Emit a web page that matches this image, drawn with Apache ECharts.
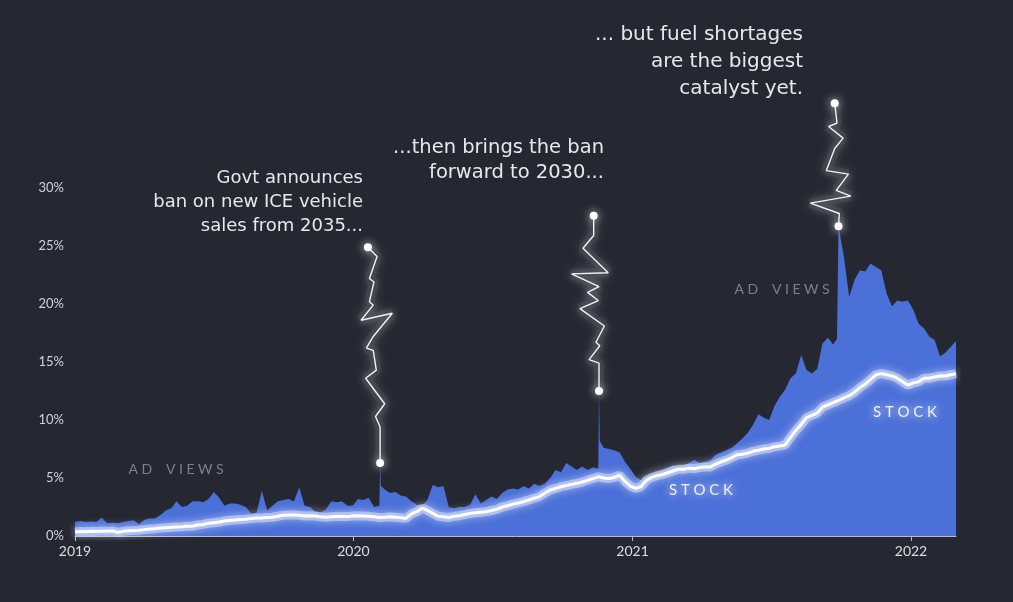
<!DOCTYPE html>
<html>
<head>
<meta charset="utf-8">
<script src="https://cdn.jsdelivr.net/npm/echarts@6.0.0/dist/echarts.min.js"></script>
<style>
html, body { margin: 0; padding: 0; background: #252831; }
#chart { width: 1013px; height: 602px; }
</style>
</head>
<body>
<div id="chart"></div>
<script>
// weekly samples from 2019-01-01, values in %
var START = new Date(2019, 0, 1).getTime();
var DAY = 864e5;

var adViews = [
    1.2, 1.3, 1.2, 1.25, 1.2, 1.6, 1.1, 1.15, 1.1, 1.2,
    1.3, 1.35, 1.0, 1.4, 1.5, 1.5, 1.8, 2.2, 2.4, 3.0,
    2.5, 2.6, 3.0, 3.0, 2.9, 3.2, 3.8, 3.3, 2.6, 2.8,
    2.8, 2.7, 2.5, 1.95, 2.0, 3.9, 2.2, 2.6, 3.0, 3.1,
    3.2, 3.0, 4.2, 2.6, 2.5, 2.1, 2.0, 2.3, 3.0, 2.9,
    3.0, 2.6, 2.6, 3.2, 3.1, 3.3, 2.5, 2.6, 4.0, 3.7,
    3.8, 3.5, 3.4, 3.0, 2.7, 2.6, 3.1, 4.4, 4.2, 4.3,
    2.5, 2.4, 2.5, 2.5, 2.7, 3.6, 2.8, 3.1, 3.4, 3.2,
    3.7, 4.0, 4.1, 4.0, 4.3, 4.1, 4.5, 4.3, 4.5, 5.0,
    5.7, 5.5, 6.3, 6.0, 5.7, 6.0, 5.7, 5.9, 5.8, 7.6,
    7.5, 7.4, 7.2, 6.4, 5.8, 5.1, 4.8, 5.1, 5.4, 5.5,
    5.7, 5.9, 6.1, 6.0, 6.1, 6.3, 6.55, 6.3, 6.4, 6.55,
    7.0, 7.2, 7.4, 7.6, 8.0, 8.4, 8.9, 9.6, 10.5, 10.2,
    10.0, 11.2, 12.0, 12.6, 13.6, 14.0, 15.6, 14.3, 14.0, 14.4,
    16.6, 17.1, 16.5, 26.7, 24.1, 20.6, 22.1, 22.9, 22.8, 23.5,
    23.2, 22.9, 20.9, 19.8, 20.3, 20.2, 20.3, 19.5, 18.3, 17.9,
    17.2, 16.9, 15.5, 15.8, 16.3, 16.8
];

// single-day peaks between the weekly samples: [day from start, %]
var adViewSpikes = [[400, 6.3], [401, 4.3], [687, 12.5], [688, 8.2], [999, 17.0]];

var stock = [
    0.35, 0.38, 0.37, 0.40, 0.38, 0.42, 0.40, 0.44, 0.30, 0.40,
    0.45, 0.47, 0.50, 0.55, 0.60, 0.62, 0.68, 0.72, 0.75, 0.78,
    0.80, 0.85, 0.85, 0.95, 1.00, 1.10, 1.15, 1.20, 1.30, 1.35,
    1.38, 1.42, 1.45, 1.50, 1.55, 1.55, 1.60, 1.62, 1.70, 1.78,
    1.82, 1.80, 1.78, 1.72, 1.75, 1.72, 1.65, 1.62, 1.65, 1.68,
    1.70, 1.68, 1.72, 1.75, 1.73, 1.70, 1.65, 1.60, 1.62, 1.65,
    1.62, 1.58, 1.52, 1.90, 2.10, 2.40, 2.20, 1.95, 1.70, 1.65,
    1.60, 1.70, 1.75, 1.85, 1.95, 2.00, 2.05, 2.10, 2.20, 2.30,
    2.50, 2.60, 2.75, 2.85, 2.96, 3.10, 3.25, 3.40, 3.70, 3.97,
    4.10, 4.25, 4.35, 4.45, 4.54, 4.65, 4.80, 4.95, 5.10, 5.00,
    4.95, 5.05, 5.25, 4.70, 4.30, 4.10, 4.25, 4.80, 5.05, 5.20,
    5.30, 5.45, 5.60, 5.75, 5.75, 5.85, 5.80, 5.90, 5.95, 5.95,
    6.20, 6.40, 6.55, 6.75, 7.00, 7.05, 7.15, 7.30, 7.40, 7.50,
    7.55, 7.70, 7.75, 7.85, 8.50, 9.10, 9.60, 10.20, 10.40, 10.60,
    11.10, 11.30, 11.50, 11.70, 11.90, 12.10, 12.40, 12.80, 13.10, 13.50,
    13.90, 14.00, 13.90, 13.80, 13.60, 13.30, 13.00, 13.20, 13.30, 13.60,
    13.60, 13.70, 13.80, 13.80, 13.90, 14.00
];

var years = [2019, 2020, 2021, 2022];

// lightning-bolt callouts, [day from start, %], top dot first
var boltBan2035 = [
    [384, 24.9], [396, 24.1], [386, 22.2], [392, 21.9], [386, 20.2], [391, 19.9],
    [375, 18.6], [416, 19.2], [391, 17.2], [382, 16.2], [391, 16.0], [395, 14.3],
    [381, 13.6], [406, 11.4], [394, 10.3], [400, 9.4], [400, 6.3]
];
var boltBan2030 = [
    [680, 27.6], [680, 25.9], [666, 24.8], [699, 22.7], [651, 22.6], [687, 21.5],
    [672, 21.0], [686, 20.3], [662, 19.6], [694, 18.1], [683, 16.7], [688, 16.4],
    [674, 15.2], [687, 14.9], [687, 12.5]
];
var boltFuel = [
    [996, 37.3], [999, 35.6], [988, 35.3], [1007, 34.3], [996, 33.4], [985, 31.5],
    [1014, 31.2], [998, 29.8], [1017, 29.3], [964, 28.7], [1002, 27.8], [1001, 26.7]
];

var notes = [
    {text: 'Govt announces\nban on new ICE vehicle\nsales from 2035...', x: 363, y: 166, size: 18, lh: 24},
    {text: '...then brings the ban\nforward to 2030...', x: 604, y: 135, size: 19.5, lh: 25},
    {text: '... but fuel shortages\nare the biggest\ncatalyst yet.', x: 803, y: 21, size: 20, lh: 27}
];

function day(n) { return START + n * DAY; }

var adData = adViews.map((v, i) => [day(i * 7), v])
    .concat(adViewSpikes.map(p => [day(p[0]), p[1]]))
    .sort((a, b) => a[0] - b[0]);
var stockData = stock.map((v, i) => [day(i * 7), v]);
var endDay = day((adViews.length - 1) * 7);
var yearTicks = years.map(y => new Date(y, 0, 1).getTime());

function bolt(points) {
    var n = points.length;
    var data = points.map(p => [day(p[0]), p[1]]);
    return [{
        // soft halo under the zigzag
        type: 'line', data: data, z: 4, showSymbol: false, clip: false, silent: true,
        lineStyle: {color: 'rgba(200,202,212,0.07)', width: 10, shadowBlur: 8, shadowColor: 'rgba(220,222,230,0.6)'}
    }, {
        type: 'line',
        data: data,
        z: 5,
        showAllSymbol: true,
        symbol: 'circle',
        symbolSize: (v, p) => (p.dataIndex === 0 || p.dataIndex === n - 1) ? 8 : 0,
        itemStyle: {color: '#ffffff', shadowBlur: 10, shadowColor: 'rgba(255,255,255,0.8)'},
        lineStyle: {color: '#f2f2f2', width: 1.4, shadowBlur: 12, shadowColor: 'rgba(255,255,255,0.8)'},
        clip: false,
        silent: true
    }];
}

function spaced(s) {
    return s.split('').map(c => c === ' ' ? '\u2005\u2005' : c).join('\u2005');
}

var font = 'Lato, "Open Sans", sans-serif';
var noteFont = '"DejaVu Sans", "Open Sans", sans-serif';
var graphics = notes.map(n => ({
    type: 'text',
    x: n.x, y: n.y, z: 100,
    style: {
        text: n.text, fill: '#e6e8ec', font: n.size + 'px ' + noteFont,
        textAlign: 'right', textVerticalAlign: 'top', lineHeight: n.lh
    }
}));
[[176, 469], [782, 289]].forEach(p => graphics.push({
    type: 'text', x: p[0], y: p[1], z: 100,
    style: {text: spaced('AD VIEWS'), fill: '#7b808d', font: '14px ' + font,
        textAlign: 'center', textVerticalAlign: 'middle'}
}));
[[701, 490], [905, 412]].forEach(p => graphics.push({
    type: 'text', x: p[0], y: p[1], z: 100,
    style: {text: spaced('STOCK'), fill: '#eef1ff', font: '15px ' + font,
        textAlign: 'center', textVerticalAlign: 'middle',
        textShadowBlur: 8, textShadowColor: 'rgba(255,255,255,1)'}
}));

var chart = echarts.init(document.getElementById('chart'));
chart.setOption({
    backgroundColor: '#252831',
    animation: false,
    textStyle: {fontFamily: font},
    grid: {left: 75, right: 57, top: 14, bottom: 66},
    xAxis: {
        type: 'value',
        min: START,
        max: endDay,
        axisLine: {lineStyle: {color: '#b9bcc6', width: 1}},
        axisTick: {show: true, length: 5, customValues: yearTicks, lineStyle: {color: '#b9bcc6'}},
        axisLabel: {
            customValues: yearTicks,
            formatter: v => String(new Date(v).getFullYear()),
            color: '#dcdee4', fontSize: 14, margin: 8
        },
        splitLine: {show: false}
    },
    yAxis: {
        type: 'value',
        min: 0, max: 45, interval: 5,
        axisLine: {show: false},
        axisTick: {show: false},
        splitLine: {show: false},
        axisLabel: {
            formatter: v => v <= 30 ? v + '%' : '',
            color: '#cfd2da', fontSize: 13, margin: 11
        }
    },
    series: [
        {
            type: 'line', data: adData, showSymbol: false, z: 1, silent: true,
            lineStyle: {width: 0},
            areaStyle: {color: '#4b70d8', opacity: 1}
        },
        {
            type: 'line', data: stockData, showSymbol: false, z: 2, silent: true,
            lineStyle: {color: 'rgba(210,218,252,0.6)', width: 9, shadowBlur: 8, shadowColor: 'rgba(225,232,255,0.9)'}
        },
        {
            type: 'line', data: stockData, showSymbol: false, z: 3, silent: true,
            lineStyle: {color: '#ffffff', width: 3}
        }
    ].concat(bolt(boltBan2035), bolt(boltBan2030), bolt(boltFuel)),
    graphic: graphics
});
</script>
</body>
</html>
